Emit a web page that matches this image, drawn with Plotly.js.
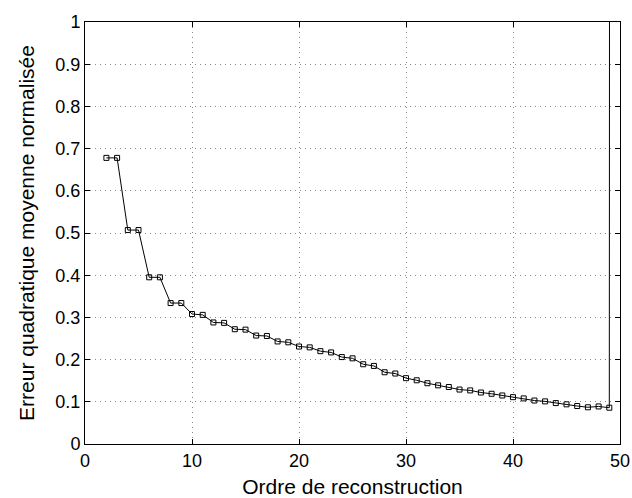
<!DOCTYPE html>
<html><head><meta charset="utf-8">
<script src="https://cdn.plot.ly/plotly-3.0.1.min.js"></script>
<style>body{margin:0;background:#fff}#c{width:632px;height:498px}</style>
</head><body><div id="c"></div>
<script>
const orders = [2,3,4,5,6,7,8,9,10,11,12,13,14,15,16,17,18,19,20,21,22,23,24,25,26,27,28,29,30,31,32,33,34,35,36,37,38,39,40,41,42,43,44,45,46,47,48,49,50];
const errors = [0.678,0.678,0.507,0.507,0.395,0.395,0.334,0.334,0.308,0.306,0.288,0.287,0.272,0.271,0.257,0.256,0.243,0.241,0.231,0.229,0.220,0.217,0.206,0.203,0.189,0.185,0.170,0.167,0.156,0.151,0.144,0.139,0.135,0.129,0.127,0.122,0.119,0.115,0.111,0.108,0.103,0.101,0.097,0.094,0.090,0.087,0.089,0.086,50];
const xTicks = [0,10,20,30,40,50];
const yTicks = [0,0.1,0.2,0.3,0.4,0.5,0.6,0.7,0.8,0.9,1];
const yTickText = ['0','0.1','0.2','0.3','0.4','0.5','0.6','0.7','0.8','0.9','1'];

const font = {family:'Liberation Sans, Arial, Helvetica, sans-serif', size:18, color:'#000'};
const axisCommon = {
  showline:true, linecolor:'#000', linewidth:1, mirror:'ticks',
  ticks:'inside', ticklen:5, tickcolor:'#000', tickwidth:1,
  showgrid:true, gridcolor:'#888', griddash:'1px,4px', gridwidth:1,
  zeroline:false, tickfont:font
};
Plotly.newPlot('c', [{
  x: orders, y: errors, type:'scatter', mode:'lines+markers',
  line:{color:'#000', width:1},
  marker:{symbol:'square-open', size:5, color:'#000', line:{width:1}},
  cliponaxis:true
}], {
  width:632, height:498,
  margin:{l:85, r:12, t:22, b:54},
  paper_bgcolor:'#fff', plot_bgcolor:'#fff',
  showlegend:false,
  font: font,
  xaxis: Object.assign({}, axisCommon, {
    range:[0,50], tickvals:xTicks, ticktext:xTicks.map(String),
    title:{text:'Ordre de reconstruction', font:{family:font.family, size:21, color:'#000'}, standoff:10}
  }),
  yaxis: Object.assign({}, axisCommon, {
    range:[0,1], tickvals:yTicks, ticktext:yTickText,
    title:{text:'Erreur quadratique moyenne normalisée', font:{family:font.family, size:21, color:'#000'}, standoff:15}
  })
}, {displayModeBar:false, staticPlot:true});
</script>
</body></html>
